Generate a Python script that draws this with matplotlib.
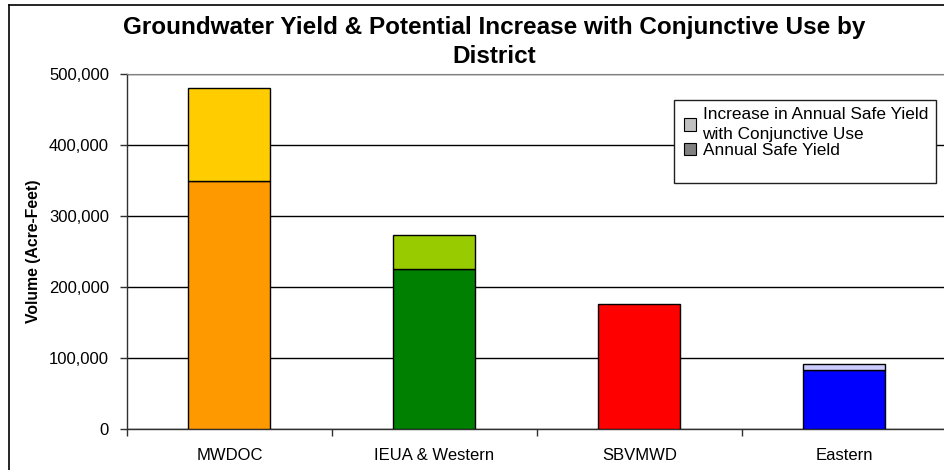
import matplotlib
matplotlib.use("Agg")
import matplotlib.pyplot as plt
from matplotlib.patches import Patch, Rectangle
from matplotlib.lines import Line2D
from matplotlib.ticker import FuncFormatter, FixedLocator

plt.rcParams['font.family'] = ['Liberation Sans', 'DejaVu Sans']

districts = ["MWDOC", "IEUA & Western", "SBVMWD", "Eastern"]
safe_yield = [350000, 225000, 176000, 83000]
increase = [130000, 48000, 0, 9000]
base_colors = ["#FF9900", "#008000", "#FF0000", "#0000FF"]
inc_colors = ["#FFCC00", "#99CC00", "#FFFFFF", "#CCCCFF"]
legend_labels = ["Increase in Annual Safe Yield\nwith Conjunctive Use", "Annual Safe Yield"]
legend_colors = ["#C0C0C0", "#808080"]
yticks = [0, 100000, 200000, 300000, 400000, 500000]

W, H = 945, 470
fig = plt.figure(figsize=(W / 100, H / 100), dpi=100)
ax = fig.add_axes([127 / W, 1 - 429 / H, 820 / W, 355 / H])

x = list(range(len(districts)))
ax.bar(x, safe_yield, width=0.4, color=base_colors, edgecolor="black", linewidth=1.0, zorder=3)
inc_x = [xi for xi, v in zip(x, increase) if v > 0]
inc_v = [v for v in increase if v > 0]
inc_b = [b for b, v in zip(safe_yield, increase) if v > 0]
inc_c = [c for c, v in zip(inc_colors, increase) if v > 0]
ax.bar(inc_x, inc_v, bottom=inc_b, width=0.4, color=inc_c, edgecolor="black", linewidth=1.0, zorder=3)

ax.set_xlim(-0.5, len(districts) - 0.5)
ax.set_ylim(0, 500000)
ax.set_yticks(yticks)
ax.yaxis.set_major_formatter(FuncFormatter(lambda v, p: f"{int(v):,}"))
ax.grid(axis="y", color="black", linewidth=1.0, zorder=0)
ax.set_axisbelow(True)

ax.set_xticks(x)
ax.set_xticklabels(districts, fontsize=12)
ax.xaxis.set_minor_locator(FixedLocator([i + 0.5 for i in range(-1, len(districts))]))
ax.tick_params(axis="x", which="major", length=0, pad=14)
ax.tick_params(axis="x", which="minor", length=5, width=1, color="#303030", direction="out")
ax.tick_params(axis="y", length=5, width=1, color="#303030", labelsize=12, pad=8)

for s in ["top", "right"]:
    ax.spines[s].set_color("#808080")
for s in ["left", "bottom"]:
    ax.spines[s].set_color("#303030")
    ax.spines[s].set_linewidth(1.0)

ax.set_ylabel("Volume (Acre-Feet)", fontsize=11.3, fontweight="bold")
ax.yaxis.set_label_coords(-86 / 820, 0.5)

fig.text(494 / W, 1 - 42 / H, "Groundwater Yield & Potential Increase with Conjunctive Use by\nDistrict",
         ha="center", va="center", fontsize=17.5, fontweight="bold", linespacing=1.35)

# legend frame (Excel-style box with extra space at bottom)
ax.add_patch(Rectangle((674 / W, 1 - 183 / H), 262 / W, 83 / H, transform=fig.transFigure,
                       facecolor="white", edgecolor="#202020", linewidth=1.0, zorder=4, clip_on=False))
handles = [Patch(facecolor=c, edgecolor="black", linewidth=0.8) for c in legend_colors]
leg = ax.legend(handles, legend_labels, loc="upper left", bbox_to_anchor=(681 / W, 1 - 104 / H),
                bbox_transform=fig.transFigure, frameon=False, fontsize=12.4,
                handlelength=0.7, handleheight=0.7, handletextpad=0.35, borderpad=0.2,
                labelspacing=0.1, borderaxespad=0)
for t in leg.get_texts():
    t.set_linespacing(1.35)
leg.set_zorder(5)

fig.add_artist(Line2D([9 / W, 1], [1 - 5 / H, 1 - 5 / H], transform=fig.transFigure, color="black", linewidth=1.2))
fig.add_artist(Line2D([9 / W, 9 / W], [0, 1 - 5 / H], transform=fig.transFigure, color="black", linewidth=1.2))

fig.savefig("out.png", dpi=100)
